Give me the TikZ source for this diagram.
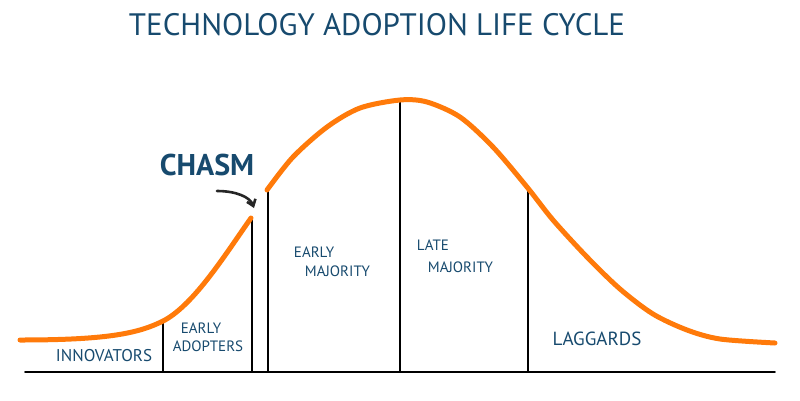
\documentclass[tikz,border=0pt]{standalone}
\usepackage{fontspec}
\setmainfont{PT Sans}
\usetikzlibrary{arrows.meta}
\definecolor{inkblue}{HTML}{174A6E}
\definecolor{curveorange}{HTML}{FF7A0A}
\tikzset{
	label text/.style={text=inkblue, font=\fontsize{15}{16}\selectfont, align=left, inner sep=0pt},
	divider/.style={line width=1.8pt, black}
}
\begin{document}
\begin{tikzpicture}[x=1pt,y=-1pt, line join=round, line cap=round, >=Stealth]
	\useasboundingbox (0,0) rectangle (800,400);
	\node[text=inkblue, font=\fontsize{31}{32}\selectfont] (title) at (377,25) {TECHNOLOGY ADOPTION LIFE CYCLE};
	% dividers
	\foreach \x/\y in {163/321, 252/218, 268/190, 400/100, 528/187}{
		\draw[divider] (\x,372) -- (\x,\y);}
	\draw[line width=1.8pt] (25,372) -- (775,372);
	% curve, broken at the chasm
	\draw[curveorange, line width=5pt] (20,340) .. controls (110,340) and (140,333) .. (165,320) .. controls (195,303) and (225,255) .. (251,218);
	\draw[curveorange, line width=5pt] plot[smooth] coordinates {(267,190) (293,157) (327,127) (360,108) (400,100) (427,102) (460,117) (493,147) (527,187) (553,220) (587,257) (620,289) (653,314) (687,330) (720,339) (775,343)};
	\node[text=inkblue, font=\bfseries\fontsize{30}{32}\selectfont, inner sep=0pt] (chasm) at (207,165) {CHASM};
	\coordinate (gap) at (254,208);
	\draw[-{Straight Barb[length=6pt,width=9pt]}, line width=2.6pt, black!85] (217,191) .. controls (236,191) and (250,197) .. (gap);
	% segment labels
	\node[label text, font=\fontsize{17}{18}\selectfont] (innovators) at (104,356) {INNOVATORS};
	\node[label text] (earlyAdopters) at (208,337) {\hspace*{8pt}EARLY\\[2pt]ADOPTERS};
	\node[label text] (earlyMajority) at (332,262) {EARLY\\[3pt]\hspace*{11pt}MAJORITY};
	\node[label text] (lateMajority) at (455,256) {LATE\\[6pt]\hspace*{11pt}MAJORITY};
	\node[label text, font=\fontsize{19}{20}\selectfont] (laggards) at (597,339) {LAGGARDS};
\end{tikzpicture}
\end{document}
